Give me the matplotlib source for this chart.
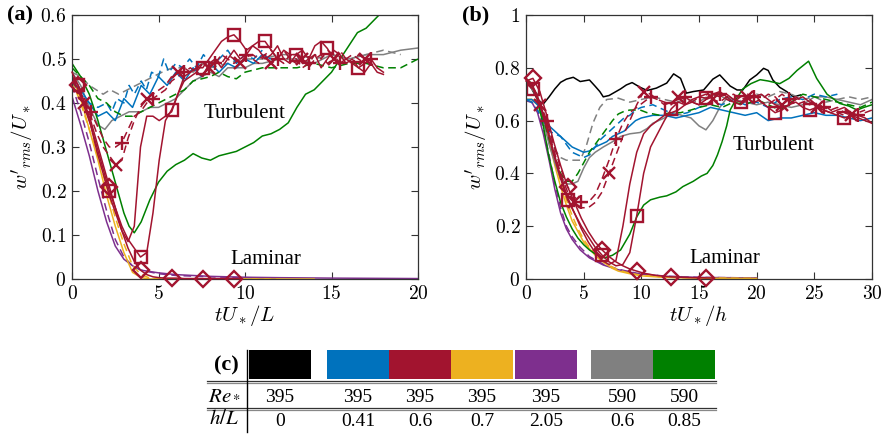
import numpy as np
import matplotlib
matplotlib.use('Agg')
import matplotlib.pyplot as plt
from matplotlib.ticker import FuncFormatter, MultipleLocator
from matplotlib.patches import Rectangle
from matplotlib.lines import Line2D

plt.rcParams['font.family'] = 'serif'
plt.rcParams['font.serif'] = ['Liberation Serif', 'DejaVu Serif']
plt.rcParams['mathtext.fontset'] = 'cm'

# colours of the cases (table c)
case_colors = ['#000000', '#0072BD', '#A2142F', '#EDB120', '#7E2F8E', '#808080', '#008000']
re_values = ['395', '395', '395', '395', '395', '590', '590']
hl_values = ['0', '0.41', '0.6', '0.7', '2.05', '0.6', '0.85']
BLACK, BLUE, RED, YELLOW, PURPLE, GRAY, GREEN = case_colors

# ---------------- panel (a): x = tU*/L ----------------
# red (h/L = 0.6) runs, sampled every dt_a
dt_a = 0.36
red_sq_a = [0.46, 0.44, 0.40, 0.35, 0.30, 0.25, 0.20, 0.16, 0.12, 0.09,
            0.07, 0.05, 0.06, 0.15, 0.27, 0.36, 0.385, 0.42, 0.46, 0.47,
            0.48, 0.48, 0.50, 0.52, 0.54, 0.55, 0.555, 0.54, 0.52, 0.53,
            0.54, 0.54, 0.52, 0.50, 0.52, 0.51, 0.51, 0.49, 0.50, 0.53,
            0.54, 0.524, 0.50, 0.49, 0.50, 0.49, 0.48, 0.47, 0.49, 0.47, 0.465]
red_plain_a = [0.46, 0.43, 0.39, 0.35, 0.29, 0.24, 0.19, 0.15, 0.11, 0.085,
               0.12, 0.30, 0.37, 0.37, 0.36, 0.37, 0.38, 0.42, 0.45, 0.46,
               0.47, 0.46, 0.49, 0.50, 0.48, 0.50, 0.52, 0.50, 0.51, 0.53,
               0.52, 0.50, 0.51, 0.53, 0.50, 0.49, 0.51, 0.52, 0.50, 0.51,
               0.48, 0.50, 0.52, 0.51, 0.49, 0.50, 0.48, 0.49, 0.50, 0.48, 0.47]
red_dia_a = [0.47, 0.44, 0.40, 0.36, 0.31, 0.26, 0.21, 0.16, 0.11, 0.07,
             0.04, 0.02, 0.01, 0.005, 0.003, 0.002, 0.002, 0.002, 0.001, 0.001,
             0.001, 0.001, 0.001, 0.001, 0.001, 0.001, 0.001, 0.001]
red_x_a = [0.45, 0.43, 0.40, 0.37, 0.33, 0.30, 0.28, 0.26, 0.27, 0.32,
           0.36, 0.39, 0.41, 0.42, 0.43, 0.44, 0.46, 0.47, 0.48, 0.47,
           0.48, 0.49, 0.48, 0.50, 0.49, 0.51, 0.50, 0.49, 0.50, 0.51,
           0.50, 0.51, 0.49, 0.50, 0.52, 0.50, 0.49, 0.50, 0.48, 0.50,
           0.51, 0.49, 0.50, 0.52, 0.50, 0.49, 0.51, 0.50, 0.49, 0.48]
red_plus_a = [0.46, 0.44, 0.41, 0.38, 0.35, 0.32, 0.30, 0.30, 0.31, 0.34,
              0.37, 0.38, 0.40, 0.41, 0.42, 0.43, 0.45, 0.46, 0.47, 0.48,
              0.47, 0.49, 0.48, 0.49, 0.51, 0.50, 0.49, 0.50, 0.51, 0.50,
              0.49, 0.51, 0.52, 0.50, 0.49, 0.51, 0.50, 0.48, 0.49, 0.51,
              0.50, 0.52, 0.51, 0.49, 0.50, 0.51, 0.50, 0.49, 0.50]

blue_a_t = [0, 0.5, 1, 1.5, 2, 2.5, 3, 3.5, 4, 4.5, 5, 5.5, 6, 6.5, 7, 7.5, 8, 8.5, 9, 9.5, 10, 10.5, 11, 11.5]
blue_a_w = [0.45, 0.43, 0.40, 0.37, 0.38, 0.36, 0.41, 0.39, 0.44, 0.42, 0.46, 0.44, 0.47, 0.45, 0.48, 0.46,
            0.49, 0.47, 0.49, 0.48, 0.50, 0.49, 0.51, 0.50]
blued_a_t = [0, 0.5, 1, 1.5, 2, 2.3, 2.6, 3, 3.3, 3.6, 4, 4.3, 4.6, 5, 5.3, 5.6, 6, 6.4, 6.8, 7.2,
             7.6, 8, 8.5, 9, 9.5, 10, 10.5, 11]
blued_a_w = [0.45, 0.42, 0.40, 0.39, 0.40, 0.38, 0.41, 0.40, 0.44, 0.42, 0.45, 0.43, 0.47, 0.46, 0.50,
             0.47, 0.49, 0.48, 0.50, 0.48, 0.51, 0.49, 0.50, 0.52, 0.49, 0.51, 0.50, 0.52]
gray_a_t = [0, 0.5, 1, 1.5, 1.9, 2.3, 2.8, 3.3, 4, 4.5, 5, 5.5, 6, 6.5, 7, 7.5, 8, 8.5, 9, 10, 10.5, 11,
            12, 13, 14, 15, 16, 17, 18, 19, 20]
gray_a_w = [0.47, 0.44, 0.39, 0.35, 0.34, 0.36, 0.37, 0.38, 0.38, 0.39, 0.39, 0.40, 0.41, 0.43, 0.45,
            0.46, 0.47, 0.46, 0.48, 0.48, 0.49, 0.49, 0.50, 0.50, 0.49, 0.51, 0.50, 0.51, 0.51, 0.52, 0.525]
grayd_a_t = [0, 0.5, 1, 1.4, 1.8, 2.2, 2.7, 3.2, 3.7, 4.2, 4.7, 5.2, 5.8, 6.5, 7, 7.5, 8, 9, 10, 11,
             12, 13, 14, 15, 16, 17, 18, 19]
grayd_a_w = [0.47, 0.46, 0.44, 0.43, 0.42, 0.43, 0.42, 0.43, 0.44, 0.45, 0.46, 0.47, 0.48, 0.48, 0.47,
             0.49, 0.48, 0.49, 0.50, 0.50, 0.51, 0.51, 0.50, 0.51, 0.50, 0.51, 0.52, 0.51]
green_a_t = [0, 0.5, 1, 1.5, 2, 2.5, 3, 3.3, 3.6, 4, 4.5, 5, 5.5, 6, 6.5, 7, 7.5, 8, 8.5, 9, 9.5, 10,
             10.5, 11, 11.5, 12, 12.5, 13, 13.5, 14, 14.5, 15, 15.5, 16, 16.5, 17, 17.5, 18, 18.5,
             19, 19.5, 20]
green_a_w = [0.49, 0.46, 0.42, 0.36, 0.29, 0.22, 0.15, 0.12, 0.105, 0.13, 0.18, 0.22, 0.245, 0.26,
             0.27, 0.285, 0.275, 0.27, 0.28, 0.285, 0.29, 0.30, 0.31, 0.325, 0.33, 0.34, 0.355,
             0.39, 0.42, 0.43, 0.45, 0.47, 0.50, 0.53, 0.56, 0.57, 0.59, 0.61, 0.62, 0.61, 0.60, 0.61]
greend_a_t = [0, 0.5, 1, 1.5, 2, 2.5, 3, 3.5, 4, 4.5, 5, 5.5, 6, 6.5, 7, 7.5, 8, 8.5, 9, 9.5, 10,
              11, 12, 13, 14, 15, 16, 17, 18, 19, 20]
greend_a_w = [0.48, 0.46, 0.44, 0.41, 0.40, 0.38, 0.37, 0.37, 0.38, 0.39, 0.40, 0.41, 0.42, 0.43,
              0.45, 0.455, 0.46, 0.47, 0.46, 0.455, 0.47, 0.48, 0.48, 0.48, 0.49, 0.48, 0.49, 0.49,
              0.48, 0.48, 0.50]
yellow_a_t = [0, 0.5, 1, 1.5, 2, 2.5, 3, 3.5, 4, 4.5, 5, 14]
yellow_a_w = [0.46, 0.41, 0.34, 0.27, 0.19, 0.12, 0.06, 0.015, 0.003, 0.0, 0.0, 0.0]
yellowd_a_t = [0, 0.5, 1, 1.5, 2, 2.5, 3, 3.5, 4, 4.5, 5, 12]
yellowd_a_w = [0.45, 0.40, 0.34, 0.28, 0.21, 0.14, 0.08, 0.03, 0.01, 0.002, 0.0, 0.0]
purple_a_t = [0, 0.5, 1, 1.5, 2, 2.5, 3, 3.5, 4, 5, 6, 7, 8, 10, 12, 15, 20]
purple_a_w = [0.415, 0.35, 0.28, 0.20, 0.13, 0.075, 0.045, 0.03, 0.02, 0.014, 0.01, 0.008, 0.006,
              0.004, 0.003, 0.002, 0.001]
purpled_a_t = [0, 0.5, 1, 1.5, 2, 2.5, 3, 3.5, 4, 5, 6, 8, 10, 12]
purpled_a_w = [0.44, 0.38, 0.31, 0.23, 0.155, 0.09, 0.05, 0.03, 0.02, 0.012, 0.008, 0.005, 0.003, 0.002]

# ---------------- panel (b): x = tU*/h ----------------
dt_b = 0.6
red_sq_b = [0.75, 0.72, 0.66, 0.57, 0.47, 0.38, 0.30, 0.25, 0.20, 0.16,
            0.12, 0.09, 0.065, 0.05, 0.055, 0.10, 0.24, 0.40, 0.50, 0.55,
            0.60, 0.645, 0.67, 0.66, 0.68, 0.69, 0.685, 0.70, 0.69, 0.70,
            0.68, 0.67, 0.68, 0.70, 0.67, 0.65, 0.63, 0.64, 0.66, 0.67,
            0.65, 0.64, 0.65, 0.64, 0.63, 0.62, 0.61, 0.62, 0.61, 0.60, 0.59]
red_plain_b = [0.75, 0.73, 0.67, 0.58, 0.48, 0.39, 0.31, 0.25, 0.19, 0.14,
               0.10, 0.07, 0.055, 0.07, 0.20, 0.36, 0.48, 0.55, 0.58, 0.60,
               0.62, 0.63, 0.64, 0.66, 0.67, 0.66, 0.68, 0.70, 0.71, 0.69,
               0.67, 0.66, 0.68, 0.69, 0.70, 0.68, 0.66, 0.65, 0.66, 0.68,
               0.69, 0.67, 0.66, 0.64, 0.63, 0.64, 0.65, 0.63, 0.62, 0.61, 0.59]
red_dia_b = [0.75, 0.76, 0.71, 0.62, 0.52, 0.43, 0.35, 0.29, 0.23, 0.18,
             0.14, 0.11, 0.085, 0.065, 0.05, 0.038, 0.03, 0.022, 0.017, 0.013,
             0.01, 0.008, 0.007, 0.006, 0.005, 0.005, 0.004, 0.004]
red_x_b = [0.74, 0.72, 0.66, 0.58, 0.49, 0.40, 0.33, 0.29, 0.27, 0.27,
           0.29, 0.33, 0.40, 0.47, 0.54, 0.60, 0.66, 0.71, 0.70, 0.68,
           0.67, 0.66, 0.69, 0.68, 0.67, 0.69, 0.70, 0.68, 0.67, 0.69,
           0.70, 0.68, 0.69, 0.67, 0.68, 0.70, 0.69, 0.66, 0.68, 0.69,
           0.67, 0.66, 0.65, 0.66, 0.64, 0.63, 0.62, 0.62, 0.63, 0.64]
red_plus_b = [0.75, 0.73, 0.67, 0.60, 0.51, 0.42, 0.35, 0.31, 0.29, 0.29,
              0.32, 0.38, 0.45, 0.53, 0.59, 0.63, 0.65, 0.67, 0.69, 0.68,
              0.66, 0.67, 0.68, 0.69, 0.67, 0.66, 0.68, 0.69, 0.70, 0.68,
              0.67, 0.69, 0.70, 0.69, 0.67, 0.66, 0.68, 0.70, 0.68, 0.66,
              0.67, 0.68, 0.66, 0.65, 0.64, 0.65, 0.63, 0.62, 0.62, 0.63, 0.64]

black_b_t = [0, 0.5, 1, 1.5, 2, 2.5, 3, 3.5, 4.1, 4.7, 5.5, 6, 6.4, 6.7, 7.2, 7.6, 8.2, 8.7, 9.2, 9.9,
             10.5, 11.3, 12.2, 12.8, 13.4, 13.9, 14.5, 15.4, 16.2, 16.8, 17.7, 18.3, 18.8, 19.4, 20,
             20.6, 21, 21.4, 22, 22.6, 23.2, 23.8]
black_b_w = [0.755, 0.72, 0.68, 0.663, 0.69, 0.72, 0.745, 0.757, 0.764, 0.748, 0.754, 0.73, 0.71,
             0.69, 0.695, 0.705, 0.72, 0.735, 0.744, 0.726, 0.714, 0.723, 0.742, 0.777, 0.76, 0.704,
             0.71, 0.716, 0.757, 0.773, 0.731, 0.716, 0.716, 0.754, 0.773, 0.798, 0.79, 0.754, 0.726,
             0.71, 0.69, 0.697]
blue_b_t = [0, 0.5, 1, 1.5, 2, 2.5, 3, 3.5, 4, 4.5, 5, 5.5, 6, 6.5, 7, 7.5, 8, 8.5, 9, 9.5, 10,
            11, 12, 13, 14, 15, 16, 17, 18, 19, 20, 21, 22, 23, 24, 25, 26, 27, 28, 29, 30]
blue_b_w = [0.68, 0.68, 0.66, 0.62, 0.58, 0.56, 0.54, 0.52, 0.50, 0.49, 0.48, 0.485, 0.50, 0.51,
            0.52, 0.54, 0.55, 0.56, 0.58, 0.60, 0.61, 0.62, 0.62, 0.61, 0.62, 0.63, 0.65, 0.64,
            0.63, 0.62, 0.63, 0.60, 0.61, 0.61, 0.62, 0.63, 0.62, 0.62, 0.61, 0.60, 0.61]
blued_b_t = [0, 0.5, 1, 1.5, 2, 2.5, 3, 3.5, 4, 4.5, 5, 5.5, 6, 6.5, 7, 7.5, 8, 8.5, 9, 9.5, 10,
             11, 12, 13, 14, 15, 16, 17, 18, 19, 20, 21, 22, 23, 24, 25, 26, 27]
blued_b_w = [0.68, 0.67, 0.64, 0.60, 0.56, 0.55, 0.54, 0.51, 0.48, 0.47, 0.46, 0.47, 0.50, 0.53,
             0.55, 0.57, 0.59, 0.61, 0.62, 0.64, 0.65, 0.66, 0.64, 0.62, 0.63, 0.65, 0.67, 0.66,
             0.68, 0.66, 0.67, 0.65, 0.68, 0.69, 0.68, 0.70, 0.69, 0.70]
gray_b_t = [0, 1, 1.5, 2, 2.5, 3, 3.5, 4, 4.5, 5, 5.5, 6, 6.7, 7.5, 8.2, 9, 9.9, 10.5, 11, 12, 12.8,
            13.5, 14.3, 15, 15.6, 16.2, 16.8, 17.5, 18, 19, 20, 21, 22, 23, 24, 25, 26, 27, 28, 29, 30]
gray_b_w = [0.75, 0.69, 0.60, 0.51, 0.44, 0.38, 0.36, 0.36, 0.37, 0.42, 0.46, 0.48, 0.50, 0.52, 0.54,
            0.55, 0.555, 0.57, 0.59, 0.61, 0.63, 0.62, 0.61, 0.58, 0.565, 0.60, 0.65, 0.69, 0.68,
            0.67, 0.66, 0.67, 0.66, 0.65, 0.66, 0.69, 0.69, 0.68, 0.67, 0.66, 0.68]
grayd_b_t = [0, 1, 1.5, 2, 2.5, 3, 3.5, 4, 4.7, 5.2, 5.8, 6.4, 7, 8, 9, 10, 11, 12, 13, 14, 15, 16,
             17, 18, 19, 20, 21, 22, 23, 24, 25, 26, 27, 28, 29, 30]
grayd_b_w = [0.75, 0.70, 0.62, 0.55, 0.49, 0.46, 0.45, 0.45, 0.45, 0.50, 0.59, 0.65, 0.68, 0.685,
             0.67, 0.68, 0.69, 0.68, 0.67, 0.68, 0.67, 0.70, 0.69, 0.67, 0.68, 0.70, 0.69, 0.71,
             0.70, 0.68, 0.69, 0.67, 0.68, 0.69, 0.68, 0.69]
green_b_t = [0, 0.5, 1, 1.5, 2, 2.5, 3, 3.5, 4, 4.5, 5, 5.5, 6, 6.8, 7.5, 8.2, 9, 9.6, 10.2, 10.8,
             11.6, 12.2, 13, 13.6, 14.5, 15.2, 15.7, 16.2, 16.6, 17, 17.4, 17.7, 18.2, 18.8, 19.5,
             20.3, 21, 22, 22.8, 23.5, 24.5, 25.2, 26.1, 27.2, 28, 28.7, 29.3, 30]
green_b_w = [0.76, 0.74, 0.68, 0.58, 0.46, 0.37, 0.29, 0.235, 0.19, 0.155, 0.13, 0.11, 0.095, 0.08,
             0.09, 0.11, 0.17, 0.235, 0.28, 0.30, 0.31, 0.315, 0.33, 0.35, 0.37, 0.39, 0.40, 0.43,
             0.47, 0.52, 0.58, 0.64, 0.68, 0.72, 0.74, 0.755, 0.75, 0.74, 0.76, 0.79, 0.825, 0.76,
             0.70, 0.665, 0.655, 0.64, 0.65, 0.66]
greend_b_t = [0, 0.5, 1, 1.5, 2, 2.5, 3, 3.5, 4, 4.5, 5, 5.5, 6, 6.5, 7, 7.5, 8, 8.5, 9, 9.9, 10.5,
              11.6, 12.5, 13.4, 14.3, 15, 16, 17, 18, 19, 20, 21, 22, 23, 24, 25, 26, 27, 28, 29, 30]
greend_b_w = [0.75, 0.73, 0.69, 0.61, 0.53, 0.46, 0.40, 0.37, 0.37, 0.40, 0.44, 0.48, 0.51, 0.54,
              0.57, 0.60, 0.625, 0.635, 0.64, 0.64, 0.63, 0.62, 0.63, 0.63, 0.64, 0.65, 0.66, 0.65,
              0.67, 0.66, 0.68, 0.66, 0.64, 0.67, 0.70, 0.69, 0.68, 0.67, 0.66, 0.65, 0.67]
yellow_b_t = [0, 0.5, 1, 1.5, 2, 2.5, 3, 3.5, 4, 4.5, 5, 5.5, 6, 6.5, 7, 7.5, 8, 9, 10, 12, 15, 20]
yellow_b_w = [0.68, 0.68, 0.66, 0.60, 0.52, 0.43, 0.35, 0.28, 0.22, 0.18, 0.14, 0.115, 0.09, 0.07,
              0.055, 0.04, 0.03, 0.02, 0.012, 0.006, 0.003, 0.002]
yellowd_b_w = [0.68, 0.68, 0.67, 0.62, 0.54, 0.45, 0.37, 0.30, 0.24, 0.19, 0.15, 0.12, 0.095, 0.075,
               0.058, 0.045, 0.034, 0.022, 0.014, 0.007, 0.004, 0.002]
purple_b_t = [0, 0.5, 1, 1.5, 2, 2.5, 3, 3.5, 4, 4.7, 5.5, 6.7, 8, 9.6, 12, 15, 20]
purple_b_w = [0.675, 0.67, 0.63, 0.55, 0.45, 0.34, 0.25, 0.19, 0.15, 0.11, 0.08, 0.053, 0.035, 0.02,
              0.01, 0.006, 0.004]
purpled_b_w = [0.675, 0.67, 0.64, 0.57, 0.47, 0.36, 0.27, 0.20, 0.16, 0.12, 0.085, 0.056, 0.037,
               0.022, 0.011, 0.006, 0.004]

LW = 1.1
DASH = (5, 3)


def line(ax, t, w, color, dashed=False, **kw):
    ls = '--' if dashed else '-'
    l, = ax.plot(t, w, color=color, lw=LW, ls=ls, **kw)
    if dashed:
        l.set_dashes(DASH)
    return l


def red_runs(ax, dt, sq, plain, dia, xs, plus):
    grid = lambda y: np.arange(len(y)) * dt
    line(ax, grid(plain), plain, RED)
    line(ax, grid(xs), xs, RED, dashed=True, marker='x', ms=8.5, mew=1.7, markevery=(2, 5))
    line(ax, grid(plus), plus, RED, dashed=True, marker='+', ms=10.5, mew=1.7, markevery=(3, 5))
    line(ax, grid(sq), sq, RED, marker='s', ms=9, mfc='none', mew=1.7, markevery=(1, 5))
    line(ax, grid(dia), dia, RED, marker='D', ms=8.5, mfc='none', mew=1.7, markevery=(1, 5),
         clip_on=False, zorder=5)


def style(ax, xmax, ymax, xstep, ystep, xlabel):
    ax.set_xlim(0, xmax)
    ax.set_ylim(0, ymax)
    ax.xaxis.set_major_locator(MultipleLocator(xstep))
    ax.yaxis.set_major_locator(MultipleLocator(ystep))
    fmt = FuncFormatter(lambda v, p: '$%g$' % round(v, 2))
    ax.xaxis.set_major_formatter(fmt)
    ax.yaxis.set_major_formatter(fmt)
    ax.tick_params(direction='in', top=True, right=True, length=5, width=0.8,
                   labelsize=14, colors='#333333', labelcolor='black', pad=4)
    for s in ax.spines.values():
        s.set_color('#333333')
        s.set_linewidth(0.9)
    ax.set_xlabel(xlabel, fontsize=15, labelpad=0)
    ax.set_ylabel(r"$w'_{rms}/U_*$", fontsize=15, labelpad=3)


fig = plt.figure(figsize=(8.81, 4.37), dpi=100)
W, H = 881.0, 437.0
axa = fig.add_axes([72 / W, 1 - 279 / H, 346 / W, 264 / H])
axb = fig.add_axes([526 / W, 1 - 279 / H, 346 / W, 264 / H])

# panel (a)
line(axa, purple_a_t, purple_a_w, PURPLE)
line(axa, purpled_a_t, purpled_a_w, PURPLE, dashed=True)
line(axa, yellow_a_t, yellow_a_w, YELLOW)
line(axa, yellowd_a_t, yellowd_a_w, YELLOW, dashed=True)
line(axa, gray_a_t, gray_a_w, GRAY)
line(axa, grayd_a_t, grayd_a_w, GRAY, dashed=True)
line(axa, blue_a_t, blue_a_w, BLUE)
line(axa, blued_a_t, blued_a_w, BLUE, dashed=True)
line(axa, greend_a_t, greend_a_w, GREEN, dashed=True)
line(axa, green_a_t, green_a_w, GREEN)
red_runs(axa, dt_a, red_sq_a, red_plain_a, red_dia_a, red_x_a, red_plus_a)
style(axa, 20, 0.6, 5, 0.1, r'$tU_*/L$')
axa.text(10.0, 0.377, 'Turbulent', fontsize=15, ha='center', va='center')
axa.text(11.2, 0.045, 'Laminar', fontsize=15, ha='center', va='center')

# panel (b)
line(axb, purple_b_t, purple_b_w, PURPLE)
line(axb, purple_b_t, purpled_b_w, PURPLE, dashed=True)
line(axb, yellow_b_t, yellow_b_w, YELLOW)
line(axb, yellow_b_t, yellowd_b_w, YELLOW, dashed=True)
line(axb, black_b_t, black_b_w, BLACK)
line(axb, gray_b_t, gray_b_w, GRAY)
line(axb, grayd_b_t, grayd_b_w, GRAY, dashed=True)
line(axb, blue_b_t, blue_b_w, BLUE)
line(axb, blued_b_t, blued_b_w, BLUE, dashed=True)
line(axb, greend_b_t, greend_b_w, GREEN, dashed=True)
line(axb, green_b_t, green_b_w, GREEN)
red_runs(axb, dt_b, red_sq_b, red_plain_b, red_dia_b, red_x_b, red_plus_b)
style(axb, 30, 1.0, 5, 0.2, r'$tU_*/h$')
axb.text(21.5, 0.504, 'Turbulent', fontsize=15, ha='center', va='center')
axb.text(17.2, 0.076, 'Laminar', fontsize=15, ha='center', va='center')

fig.text(7 / W, 1 - 15 / H, '(a)', fontsize=16, fontweight='bold', va='center', ha='left')
fig.text(462 / W, 1 - 15 / H, '(b)', fontsize=16, fontweight='bold', va='center', ha='left')

# table (c)
col_x = [280, 358, 420, 482, 546, 622, 684]
col_w = 62.5
for cx, c, re, hl in zip(col_x, case_colors, re_values, hl_values):
    fig.add_artist(Rectangle(((cx - col_w / 2) / W, 1 - 379 / H), col_w / W, 29 / H,
                             transform=fig.transFigure, facecolor=c, edgecolor='none'))
    fig.text(cx / W, 1 - 397 / H, re, fontsize=14, ha='center', va='center')
    fig.text(cx / W, 1 - 422 / H, hl, fontsize=14, ha='center', va='center')
for yy in (381, 408):
    for dy, col in ((0, '#333333'), (1.6, '#888888')):
        fig.add_artist(Line2D([207 / W, 716 / W], [1 - (yy + dy) / H, 1 - (yy + dy) / H],
                              transform=fig.transFigure, color=col, lw=0.9))
fig.add_artist(Line2D([247 / W, 247 / W], [1 - 350 / H, 1 - 432 / H], transform=fig.transFigure,
                      color='black', lw=1.0))
fig.text(226 / W, 1 - 365 / H, '(c)', fontsize=16, fontweight='bold', ha='center', va='center')
fig.text(224 / W, 1 - 395 / H, r'$Re_*$', fontsize=15, ha='center', va='center', math_fontfamily='stix')
fig.text(224 / W, 1 - 420 / H, r'$h/L$', fontsize=15, ha='center', va='center', math_fontfamily='stix')

fig.savefig('out.png', dpi=100)
